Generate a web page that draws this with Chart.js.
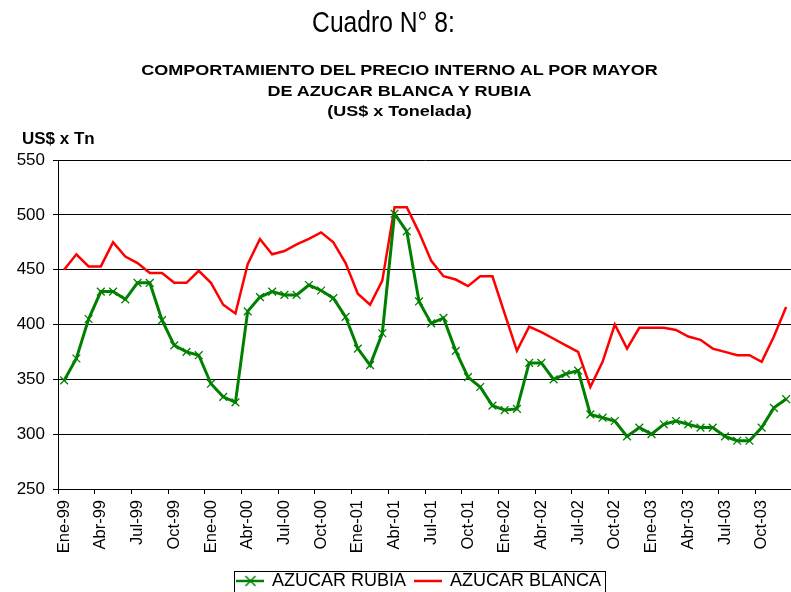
<!DOCTYPE html>
<html>
<head>
<meta charset="utf-8">
<script src="https://cdn.jsdelivr.net/npm/chart.js@4.4.1/dist/chart.umd.min.js"></script>
<style>
  html, body { margin: 0; padding: 0; background: #fff; overflow: hidden; width: 791px; height: 592px; }
  #wrap { position: absolute; left: 0; top: 0; width: 812px; height: 600px; }
  .txt { position: absolute; font-family: "Liberation Sans", Arial, sans-serif; color: #000; white-space: nowrap; }
  #cuadro { left: -12px; width: 791px; top: 8px; text-align: center; font-size: 29px; line-height: 29px; transform: scaleX(0.85); }
  .sub { left: 4px; width: 791px; text-align: center; font-size: 15px; line-height: 20.5px; font-weight: bold; transform: scaleX(1.2); }
  #unit { left: 22px; top: 130px; font-size: 17px; line-height: 17px; font-weight: bold; }
</style>
</head>
<body>
<div id="wrap"><canvas id="myChart" width="812" height="600"></canvas></div>
<div class="txt" id="cuadro">Cuadro N° 8:</div>
<div class="txt sub" style="top:60px">COMPORTAMIENTO DEL PRECIO INTERNO AL POR MAYOR<br>DE AZUCAR BLANCA Y RUBIA<br>(US$ x Tonelada)</div>
<div class="txt" id="unit">US$ x Tn</div>
<script>
var meses = ['Ene', 'Feb', 'Mar', 'Abr', 'May', 'Jun', 'Jul', 'Ago', 'Set', 'Oct', 'Nov', 'Dic'];
var anios = ['99', '00', '01', '02', '03'];

var rubia = [
    349, 369, 405, 430, 430, 423, 438, 438, 404, 381, 375, 372,
    346, 334, 329, 412, 425, 430, 427, 427, 436, 431, 424, 407,
    378, 363, 392, 501, 485, 421, 401, 406, 376, 352, 343, 326,
    322, 323, 365, 365, 350, 355, 358, 318, 315, 312, 298, 306,
    300, 309, 312, 309, 306, 306, 298, 294, 294, 306, 324, 332
];
var blanca = [
    450, 464, 453, 453, 475, 462, 456, 447, 447, 438, 438, 449,
    438, 418, 410, 455, 478, 464, 467, 473, 478, 484, 475, 456,
    428, 418, 440, 507, 507, 484, 458, 444, 441, 435, 444, 444,
    410, 376, 398, 393, 387, 381, 375, 343, 366, 400, 378, 397,
    397, 397, 395, 389, 386, 378, 375, 372, 372, 366, 389, 416
];

var labels = [];
anios.forEach(function (a) {
    meses.forEach(function (m) {
        labels.push(m + '-' + a);
    });
});

Chart.defaults.font.family = '"Liberation Sans", Arial, sans-serif';
Chart.defaults.color = '#000';

// legend symbols like the excel ones (line + marker)
function legendIcon(color, cross) {
    var c = document.createElement('canvas');
    c.width = 28;
    c.height = 12;
    var g = c.getContext('2d');
    g.strokeStyle = color;
    g.lineWidth = 2.5;
    g.beginPath();
    g.moveTo(0, 6);
    g.lineTo(28, 6);
    g.stroke();
    if (cross) {
        g.lineWidth = 1.5;
        g.beginPath();
        g.moveTo(9, 1); g.lineTo(19, 11);
        g.moveTo(19, 1); g.lineTo(9, 11);
        g.stroke();
    }
    return c;
}
var icons = [legendIcon('#008000', true), legendIcon('#ff0000', false)];

const legendBorder = {
    id: 'legendBorder',
    afterLayout(chart) {
        // the legend sits a bit right of the canvas centre in the original
        chart.legend.left += 13.5;
        chart.legend.right += 13.5;
    },
    afterDraw(chart) {
        var boxes = chart.legend.legendHitBoxes;
        if (!boxes || !boxes.length) return;
        var first = boxes[0], last = boxes[boxes.length - 1];
        var left = first.left - 4;
        var right = last.left + last.width + 4;
        var top = first.top - 1;
        const { ctx } = chart;
        ctx.save();
        ctx.strokeStyle = '#000';
        ctx.lineWidth = 1;
        ctx.strokeRect(Math.round(left) + 0.5, Math.round(top) + 0.5, Math.round(right - left), 40);
        ctx.restore();
    }
};

const ctx = document.getElementById('myChart');
new Chart(ctx, {
    type: 'line',
    data: {
        labels: labels,
        datasets: [{
            label: 'AZUCAR RUBIA',
            data: rubia,
            borderColor: '#008000',
            backgroundColor: '#008000',
            borderWidth: 3,
            pointStyle: 'crossRot',
            pointRadius: 5.5,
            pointBorderWidth: 1.3,
            pointBorderColor: '#008000',
            tension: 0
        }, {
            label: 'AZUCAR BLANCA',
            data: blanca,
            borderColor: '#ff0000',
            backgroundColor: '#ff0000',
            borderWidth: 2.5,
            pointRadius: 0,
            tension: 0
        }]
    },
    options: {
        responsive: false,
        animation: false,
        layout: { padding: { top: 160, left: 0, right: 0, bottom: 0 } },
        plugins: {
            tooltip: { enabled: false },
            legend: {
                position: 'bottom',
                labels: {
                    font: { size: 18 },
                    usePointStyle: true,
                    pointStyleWidth: 25,
                    boxHeight: 12,
                    padding: 10,
                    generateLabels: function (chart) {
                        var items = Chart.defaults.plugins.legend.labels.generateLabels(chart);
                        items.forEach(function (it, i) {
                            it.pointStyle = icons[i];
                        });
                        return items;
                    }
                }
            }
        },
        scales: {
            x: {
                offset: true,
                grid: {
                    offset: true,
                    drawOnChartArea: false,
                    drawTicks: true,
                    tickLength: 5,
                    color: function (c) {
                        return c.index % 3 === 0 ? '#000' : 'rgba(0,0,0,0)';
                    }
                },
                border: { display: true, color: '#000', width: 1 },
                ticks: {
                    autoSkip: false,
                    minRotation: 90,
                    maxRotation: 90,
                    padding: 6,
                    font: { size: 16.5 },
                    callback: function (v, i) {
                        return i % 3 === 0 ? labels[i] : '';
                    }
                },
                afterFit: function (scale) { scale.height = 73; }
            },
            y: {
                min: 250,
                max: 550,
                grid: { color: '#000', lineWidth: 1, tickLength: 5 },
                border: { display: true, color: '#000', width: 1 },
                ticks: { stepSize: 50, padding: 8, font: { size: 17 } },
                afterFit: function (scale) { scale.width = 58; }
            }
        }
    },
    plugins: [legendBorder]
});
</script>
</body>
</html>
